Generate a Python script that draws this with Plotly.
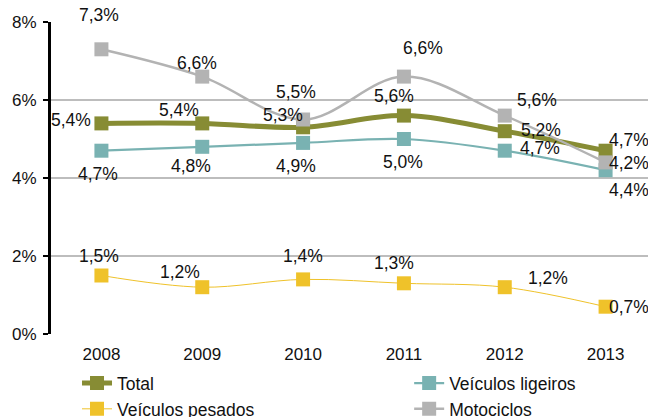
import plotly.graph_objects as go

years = [2008, 2009, 2010, 2011, 2012, 2013]
total = [5.4, 5.4, 5.3, 5.6, 5.2, 4.7]
ligeiros = [4.7, 4.8, 4.9, 5.0, 4.7, 4.2]
pesados = [1.5, 1.2, 1.4, 1.3, 1.2, 0.7]
motociclos = [7.3, 6.6, 5.5, 6.6, 5.6, 4.4]
y_ticks = [0, 2, 4, 6, 8]

names = ["Total", "Veículos ligeiros", "Veículos pesados", "Motociclos"]
series = [total, ligeiros, pesados, motociclos]
colors = ["#878C34", "#79B2B2", "#EFC22A", "#B3B3B3"]
widths = [5, 2.2, 1, 2.5]
legend_ids = ["legend", "legend2", "legend", "legend2"]

# label offsets (px) relative to each point: (dx, dy) with dy positive downward
label_offsets = [
    [(-30, -3), (-23, -13), (-20, -12), (-10, -20), (36, -1), (23, -11)],
    [(-3, 23), (-11, 19), (-7, 23), (-1, 23), (35, -3), (23, -7)],
    [(-2, -20), (-22, -15), (0, -23), (-10, -20), (43, -9), (23, 0)],
    [(-2, -34), (-5, -14), (-7, -28), (19, -29), (32, -16), (23, 28)],
]

FONT = "Liberation Sans, Arial, sans-serif"

fig = go.Figure()
for name, vals, c, w, lg in zip(names, series, colors, widths, legend_ids):
    fig.add_trace(go.Scatter(
        x=years, y=vals, name=name, mode="lines+markers",
        line=dict(color=c, width=w, shape="spline", smoothing=1.0),
        marker=dict(symbol="square", size=14, color=c),
        legend=lg,
    ))

annotations = []
for vals, offs in zip(series, label_offsets):
    for yr, v, (dx, dy) in zip(years, vals, offs):
        annotations.append(dict(
            x=yr, y=v, xref="x", yref="y",
            text=f"{v:.1f}%".replace(".", ","),
            showarrow=False, xshift=dx, yshift=-dy,
            xanchor="center", yanchor="middle",
            font=dict(family=FONT, size=17.5, color="#111111"),
        ))

legend_style = dict(
    orientation="v", xanchor="left", y=-0.10, yanchor="top",
    font=dict(family=FONT, size=17.5, color="#111111"),
    itemwidth=30, tracegroupgap=0, bgcolor="rgba(0,0,0,0)",
)

# page body has an 8px margin, so the figure is sized to fill the rest
fig.update_layout(
    width=648, height=409,
    margin=dict(l=43, r=0, t=14, b=83, autoexpand=False),
    paper_bgcolor="white", plot_bgcolor="white",
    font=dict(family=FONT, size=17, color="#111111"),
    showlegend=True,
    legend=dict(x=0.043, **legend_style),
    legend2=dict(x=0.592, **legend_style),
    annotations=annotations,
)
fig.update_xaxes(
    range=[2007.5, 2013.5], tickvals=years, ticktext=[str(y) for y in years],
    showgrid=False, showline=False, ticks="",
    tickfont=dict(size=17), zeroline=False, ticklabelstandoff=8,
)
fig.update_yaxes(
    range=[0, 8], tickvals=y_ticks, ticktext=[f"{t}%" for t in y_ticks],
    showgrid=True, gridcolor="#BDBDBD", gridwidth=2,
    showline=True, linecolor="black", linewidth=3,
    ticks="outside", ticklen=5, tickwidth=2, tickcolor="black",
    zeroline=False, tickfont=dict(size=17), ticklabelstandoff=3,
)

fig.write_html("out.html")
